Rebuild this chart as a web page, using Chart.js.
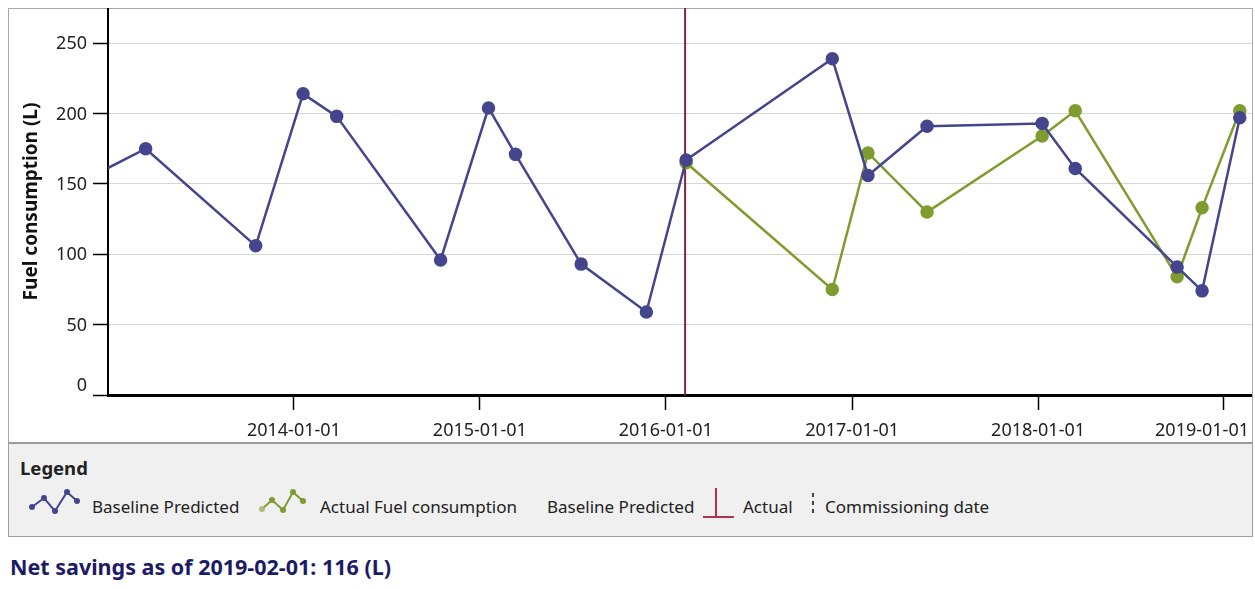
<!DOCTYPE html>
<html>
<head>
<meta charset="utf-8">
<script src="https://cdn.jsdelivr.net/npm/chart.js@4.4.0/dist/chart.umd.min.js"></script>
<style>
body{margin:0;background:#fff;font-family:"Noto Sans",sans-serif;width:1255px;height:589px;overflow:hidden;position:relative;color:#222}
#frame{position:absolute;left:8px;top:8px;width:1245px;height:436px;border:1px solid #a9a9a9;box-sizing:border-box}
#mycanvas{position:absolute;left:8px;top:8px}
#legend{position:absolute;left:8px;top:442px;width:1245px;height:95px;background:#f0f0f0;border:1px solid #a0a0a0;border-top:2px solid #9a9a9a;box-sizing:border-box}
.txt{position:absolute;font-size:17px;line-height:20px;white-space:nowrap}
.icon{position:absolute}
#savings{position:absolute;left:10px;top:552px;font-size:21.5px;line-height:29px;font-weight:bold;color:#1c1c66;white-space:nowrap}
</style>
</head>
<body>
<div id="frame"></div>
<canvas id="mycanvas" width="1244" height="432"></canvas>

<div id="legend"></div>
<div class="txt" style="left:20px;top:458px;font-weight:bold;font-size:18.5px">Legend</div>
<!-- legend icons, drawn with svg -->
<svg class="icon" style="left:26px;top:486px" width="58" height="32">
  <polyline points="6,21 18,12 29,25 41,6 51,15" fill="none" stroke="#45458e" stroke-width="2"/>
  <circle cx="6" cy="21" r="3" fill="#45458e"/><circle cx="18" cy="12" r="3" fill="#45458e"/>
  <circle cx="29" cy="25" r="3" fill="#45458e"/><circle cx="41" cy="6" r="3" fill="#45458e"/>
  <circle cx="51" cy="15" r="3" fill="#45458e"/>
</svg>
<div class="txt" style="left:92px;top:497px">Baseline Predicted</div>
<svg class="icon" style="left:256px;top:486px" width="58" height="32">
  <polyline points="6,23 16,14 27,24 37,6 47,15" fill="none" stroke="#7f9c2f" stroke-width="2"/>
  <circle cx="6" cy="23" r="3" fill="#a9bd78"/><circle cx="16" cy="14" r="3" fill="#7f9c2f"/>
  <circle cx="27" cy="24" r="3" fill="#7f9c2f"/><circle cx="37" cy="6" r="3" fill="#7f9c2f"/>
  <circle cx="47" cy="15" r="3" fill="#7f9c2f"/>
</svg>
<div class="txt" style="left:320px;top:497px">Actual Fuel consumption</div>
<div class="txt" style="left:547px;top:497px">Baseline Predicted</div>
<svg class="icon" style="left:700px;top:486px" width="38" height="34">
  <line x1="16" y1="2" x2="16" y2="31" stroke="#b0304f" stroke-width="2"/>
  <line x1="3" y1="31" x2="34" y2="31" stroke="#b0304f" stroke-width="2"/>
</svg>
<div class="txt" style="left:743px;top:497px">Actual</div>
<svg class="icon" style="left:808px;top:490px" width="10" height="30">
  <line x1="5" y1="3" x2="5" y2="27" stroke="#444" stroke-width="2" stroke-dasharray="4,4"/>
</svg>
<div class="txt" style="left:825px;top:497px">Commissioning date</div>

<div id="savings">Net savings as of 2019-02-01: 116 (L)</div>

<script>
// data
var baseDates = ['2012-11-01','2013-03-16','2013-10-18','2014-01-19','2014-03-26','2014-10-16','2015-01-18','2015-03-12','2015-07-19','2015-11-24','2016-02-10','2016-11-23','2017-02-01','2017-05-28','2018-01-09','2018-03-15','2018-10-01','2018-11-19','2019-02-01'];
var baseValues = [150,175,106,214,198,96,204,171,93,59,167,239,156,191,193,161,91,74,197];
var actualDates = ['2016-02-10','2016-11-23','2017-02-01','2017-05-28','2018-01-09','2018-03-15','2018-10-01','2018-11-19','2019-02-01'];
var actualValues = [165,75,172,130,184,202,84,133,202];
var yearTicks = ['2014-01-01','2015-01-01','2016-01-01','2017-01-01','2018-01-01','2019-01-01'];
var yTicks = [0,50,100,150,200,250];
var commissioningDate = '2016-02-08';

function toTime(s){ return Date.parse(s + 'T00:00:00Z'); }
function points(dates, vals){
	var out = [];
	for(var i in dates){
		out.push({x: toTime(dates[i]), y: vals[i]});
	}
	return out;
}

// commissioning line + tick labels (0 sits a bit above the axis, last date pulled inside)
var extras = {
	id: 'extras',
	beforeDatasetsDraw: function(chart){
		var ctx = chart.ctx, a = chart.chartArea;
		var x = chart.scales.x.getPixelForValue(toTime(commissioningDate));
		ctx.save();
		ctx.strokeStyle = '#7b2840';
		ctx.lineWidth = 2;
		ctx.beginPath();
		ctx.moveTo(x, a.top);
		ctx.lineTo(x, a.bottom);
		ctx.stroke();
		ctx.restore();
	},
	afterDraw: function(chart){
		var ctx = chart.ctx, sx = chart.scales.x, sy = chart.scales.y, a = chart.chartArea;
		ctx.save();
		ctx.font = '18px "Noto Sans"';
		ctx.fillStyle = '#222';
		ctx.textBaseline = 'middle';
		for(var i in yearTicks){
			var x = sx.getPixelForValue(toTime(yearTicks[i]));
			var w = ctx.measureText(yearTicks[i]).width;
			var left = Math.min(x - w / 2, chart.width - 3 - w);
			ctx.fillText(yearTicks[i], left, 423);
		}
		ctx.textAlign = 'right';
		for(var j in yTicks){
			var y = sy.getPixelForValue(yTicks[j]) + 1;
			if(yTicks[j] === 0) y -= 10;
			ctx.fillText(String(yTicks[j]), a.left - 21, y);
		}
		ctx.restore();
	}
};

var blue = '#45458e';
var green = '#7f9c2f';

var chart = new Chart(document.getElementById('mycanvas'), {
	type: 'line',
	data: {
		datasets: [
			{
				label: 'Baseline Predicted',
				data: points(baseDates, baseValues),
				borderColor: blue,
				backgroundColor: blue,
				borderWidth: 2.5,
				pointRadius: 5.5,
				tension: 0
			},
			{
				label: 'Actual Fuel consumption',
				data: points(actualDates, actualValues),
				borderColor: green,
				backgroundColor: green,
				borderWidth: 2.5,
				pointRadius: 5.5,
				tension: 0
			}
		]
	},
	options: {
		responsive: false,
		animation: false,
		layout: {padding: 0, autoPadding: false},
		plugins: {legend: {display: false}, tooltip: {enabled: false}},
		scales: {
			x: {
				type: 'linear',
				min: toTime('2013-01-01'),
				max: toTime('2019-02-25'),
				afterBuildTicks: function(s){
					s.ticks = yearTicks.map(function(d){ return {value: toTime(d)}; });
				},
				afterFit: function(s){ s.height = 45; s.paddingLeft = 0; s.paddingRight = 0; },
				ticks: {display: false},
				grid: {drawOnChartArea: false, drawTicks: true, tickLength: 15, tickColor: '#000', tickWidth: 1.5},
				border: {color: '#000', width: 3}
			},
			y: {
				min: 0,
				max: 275,
				afterBuildTicks: function(s){
					s.ticks = yTicks.map(function(v){ return {value: v}; });
				},
				afterFit: function(s){ s.width = 100; s.paddingTop = 0; s.paddingBottom = 0; },
				ticks: {display: false},
				grid: {color: '#d6d6d6', lineWidth: 1, tickLength: 15, tickColor: '#000', tickWidth: 1.5},
				border: {color: '#000', width: 2},
				title: {
					display: true,
					text: 'Fuel consumption (L)',
					font: {family: 'Noto Sans', size: 19, weight: 'bold'},
					color: '#111',
					padding: {top: 12, bottom: 0}
				}
			}
		}
	},
	plugins: [extras]
});
</script>
</body>
</html>
